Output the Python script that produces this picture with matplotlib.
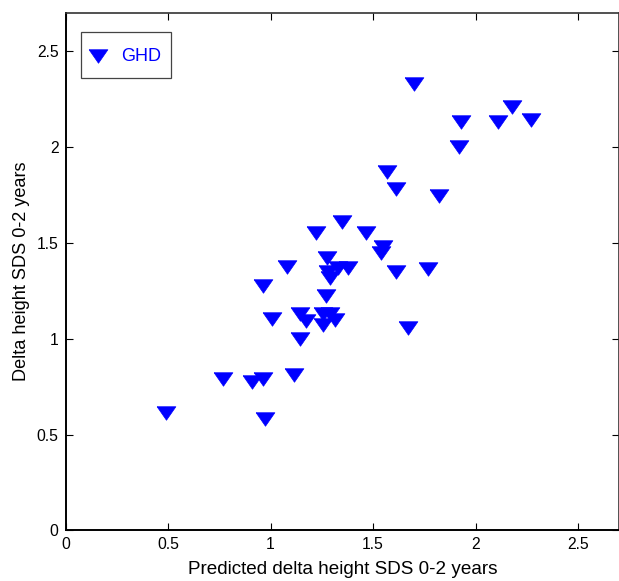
import numpy as np
import matplotlib
matplotlib.use('Agg')
import matplotlib.pyplot as plt

plt.rcParams['font.family'] = ['Liberation Sans', 'DejaVu Sans']

# predicted vs observed delta height SDS, GHD group
pred = [0.49, 0.766, 0.91, 0.963, 0.973, 1.115, 0.962, 1.082, 1.006, 1.142,
        1.146, 1.172, 1.272, 1.255, 1.255, 1.29, 1.313, 1.277, 1.28, 1.29,
        1.33, 1.377, 1.222, 1.35, 1.467, 1.548, 1.538, 1.612, 1.77, 1.67,
        1.57, 1.61, 1.82, 1.70, 1.93, 1.92, 2.11, 2.18, 2.27]
obs = [0.615, 0.79, 0.774, 0.79, 0.58, 0.81, 1.277, 1.372, 1.103, 1.0,
       1.131, 1.095, 1.225, 1.074, 1.131, 1.131, 1.098, 1.42, 1.346, 1.317,
       1.369, 1.369, 1.554, 1.611, 1.554, 1.476, 1.449, 1.346, 1.363, 1.057,
       1.87, 1.78, 1.745, 2.33, 2.13, 2.0, 2.13, 2.21, 2.14]

xticks = [0, 0.5, 1, 1.5, 2, 2.5]
yticks = [0, 0.5, 1, 1.5, 2, 2.5]
ticklabels = ['0', '0.5', '1', '1.5', '2', '2.5']

# MATLAB style downward triangle (wider than tall)
tri = [(-1, 0.72), (1, 0.72), (0, -0.72), (-1, 0.72)]

fig = plt.figure(figsize=(6.19, 5.81), dpi=100)
ax = fig.add_axes([0.106, 0.087, 0.894, 0.891])

ax.plot(pred, obs, linestyle='none', marker=tri, markersize=13.5,
        color='#0000ff', markeredgecolor='#0000ff', markeredgewidth=0.5,
        label='GHD')

ax.set_xlim(0, 2.7)
ax.set_ylim(0, 2.7)
ax.set_xticks(xticks)
ax.set_yticks(yticks)
ax.set_xticklabels(ticklabels)
ax.set_yticklabels(ticklabels)
ax.tick_params(direction='in', length=5, width=0.8, top=True, right=True,
               labelsize=11.3, pad=5)

for s in ['left', 'bottom']:
    ax.spines[s].set_linewidth(1.4)
    ax.spines[s].set_color('black')
for s in ['top', 'right']:
    ax.spines[s].set_linewidth(1.2)
    ax.spines[s].set_color('#333333')

ax.set_xlabel('Predicted delta height SDS 0-2 years', fontsize=13.6, labelpad=6)
ax.set_ylabel('Delta height SDS 0-2 years', fontsize=13.1, labelpad=5)

leg = ax.legend(loc='upper left', bbox_to_anchor=(0.0275, 0.963),
                borderaxespad=0, fancybox=False, framealpha=1,
                edgecolor='#444444', fontsize=13, handlelength=0.8,
                handletextpad=0.9, borderpad=0.54, handleheight=1.85,
                labelcolor='#0000ff')
leg.get_frame().set_linewidth(0.9)
# push the legend marker down so it sits level with the text
h = leg.legend_handles[0]
h.set_ydata(np.asarray(h.get_ydata()) - 3.4)

fig.savefig('out.png', dpi=100)
